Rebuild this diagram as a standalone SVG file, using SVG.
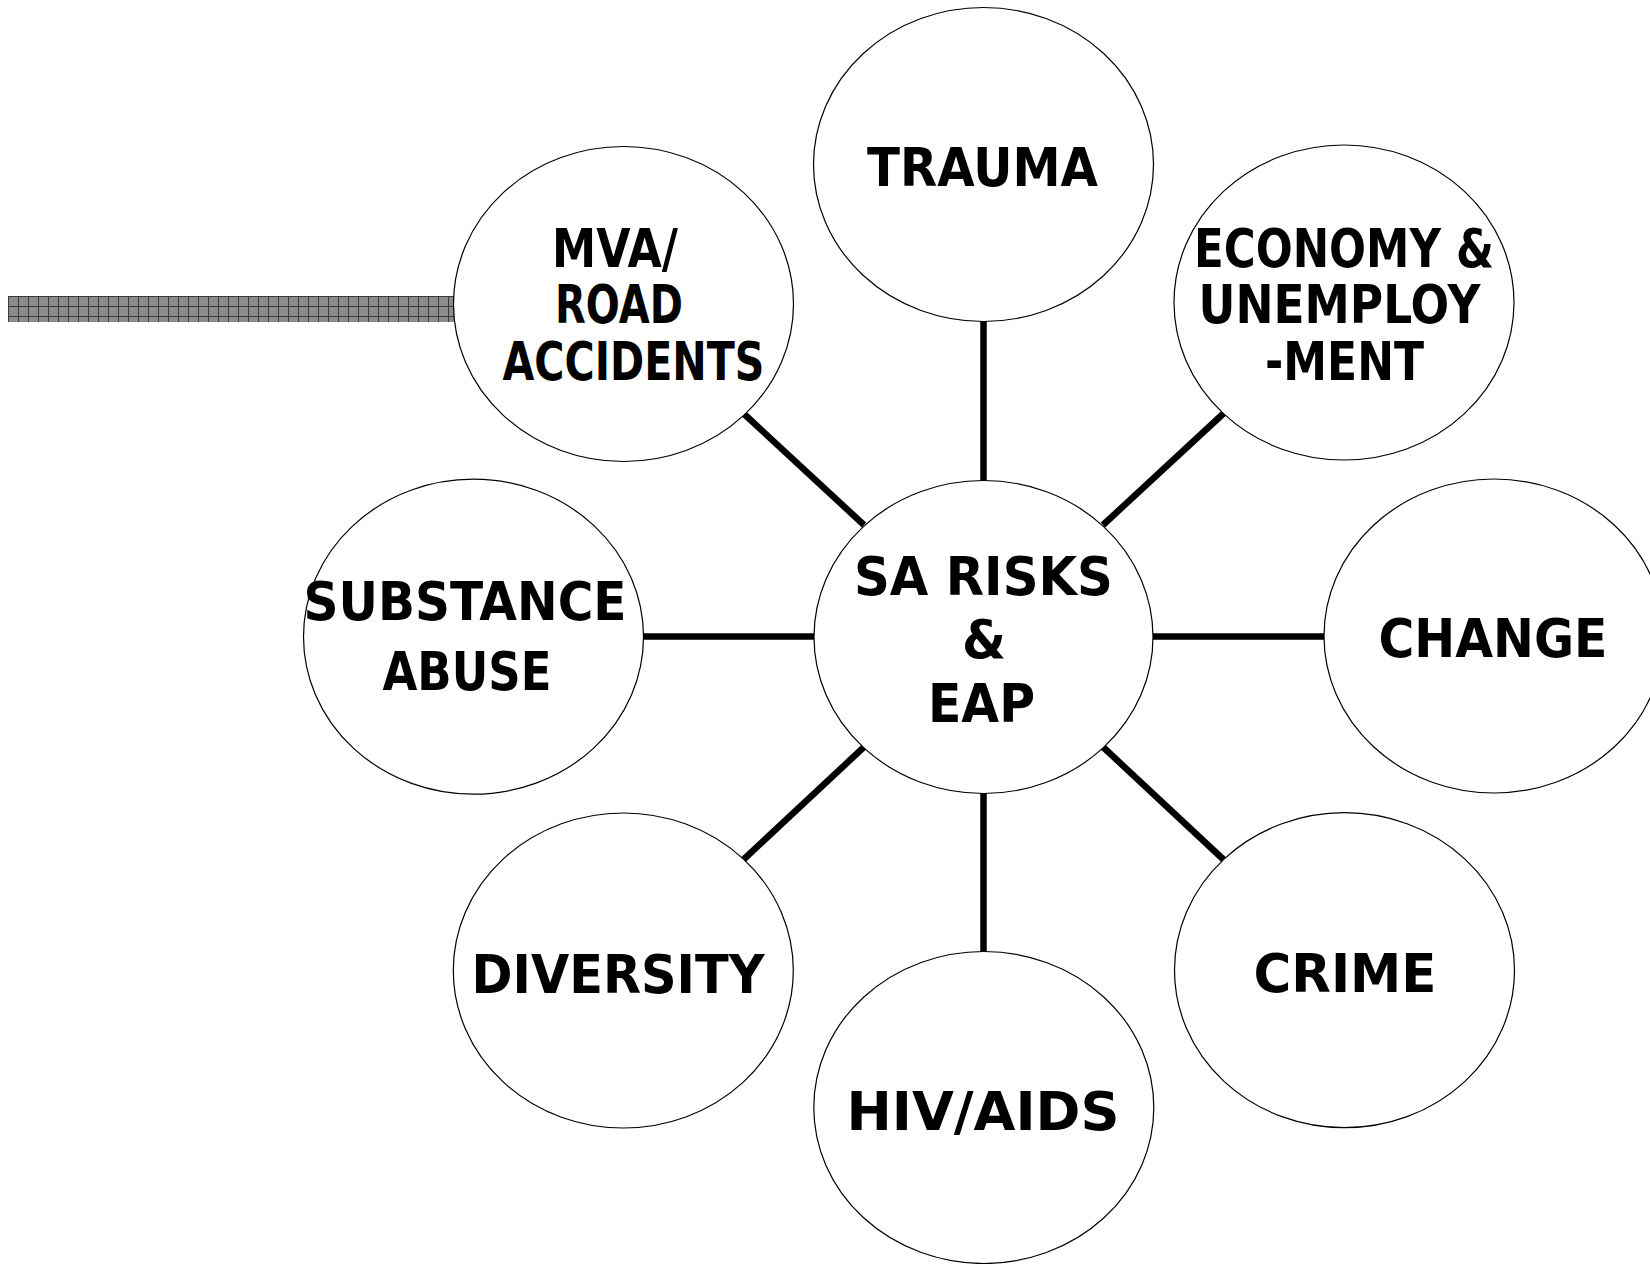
<svg xmlns="http://www.w3.org/2000/svg" width="1650" height="1264" viewBox="0 0 1650 1264">
<style>
.node ellipse{fill:#fff;stroke:#000;stroke-width:1.2}
.node text{font-family:"DejaVu Sans","Liberation Sans",sans-serif;font-weight:bold;font-size:53px;fill:#000}
.conn line{stroke:#000;stroke-width:6.5;stroke-linecap:butt}
</style>
<defs>
<pattern id="grid" x="8" y="296" width="10" height="10" patternUnits="userSpaceOnUse">
<rect width="10" height="10" fill="#8c8c8c"/>
<path d="M0 0.5H10M0.5 0V10" stroke="#3a3a3a" stroke-width="1"/>
</pattern>
</defs>
<rect id="bar" x="8" y="296" width="450" height="26" fill="url(#grid)"/>
<g id="connectors" class="conn">
<line x1="983.5" y1="321" x2="983.5" y2="481"/>
<line x1="983.5" y1="793" x2="983.5" y2="952"/>
<line x1="643" y1="636.5" x2="814" y2="636.5"/>
<line x1="1153" y1="636.5" x2="1324" y2="636.5"/>
<line x1="743" y1="413" x2="864" y2="525"/>
<line x1="1224" y1="413" x2="1103" y2="525"/>
<line x1="743" y1="860" x2="864" y2="747"/>
<line x1="1224" y1="860" x2="1103" y2="747"/>
</g>
<g id="node-trauma" class="node">
<ellipse cx="983.5" cy="164.5" rx="170" ry="157"/>
<text x="867" y="186" textLength="231" lengthAdjust="spacingAndGlyphs">TRAUMA</text>
</g>
<g id="node-mva" class="node">
<ellipse cx="623.5" cy="304" rx="170" ry="157.5"/>
<text x="552" y="267" textLength="126" lengthAdjust="spacingAndGlyphs">MVA/</text>
<text x="555" y="323" textLength="128" lengthAdjust="spacingAndGlyphs">ROAD</text>
<text x="502.5" y="380" textLength="262" lengthAdjust="spacingAndGlyphs">ACCIDENTS</text>
</g>
<g id="node-economy" class="node">
<ellipse cx="1344" cy="302.5" rx="170" ry="157.5"/>
<text x="1194" y="267" textLength="300" lengthAdjust="spacingAndGlyphs">ECONOMY &amp;</text>
<text x="1198.5" y="323" textLength="282" lengthAdjust="spacingAndGlyphs">UNEMPLOY</text>
<text x="1265" y="380" textLength="159" lengthAdjust="spacingAndGlyphs">-MENT</text>
</g>
<g id="node-substance" class="node">
<ellipse cx="473.5" cy="636.7" rx="170" ry="157.5"/>
<text x="303.5" y="620" textLength="323" lengthAdjust="spacingAndGlyphs">SUBSTANCE</text>
<text x="382.5" y="690" textLength="169" lengthAdjust="spacingAndGlyphs">ABUSE</text>
</g>
<g id="node-center" class="node">
<ellipse cx="983.5" cy="637" rx="169.5" ry="156.5"/>
<text x="854" y="595" textLength="259" lengthAdjust="spacingAndGlyphs">SA RISKS</text>
<text x="962" y="658" textLength="44" lengthAdjust="spacingAndGlyphs">&amp;</text>
<text x="928" y="722" textLength="107" lengthAdjust="spacingAndGlyphs">EAP</text>
</g>
<g id="node-change" class="node">
<ellipse cx="1494" cy="636" rx="170" ry="157"/>
<text x="1378.5" y="657" textLength="229" lengthAdjust="spacingAndGlyphs">CHANGE</text>
</g>
<g id="node-diversity" class="node">
<ellipse cx="623.3" cy="970.5" rx="170" ry="157.5"/>
<text x="471.5" y="993" textLength="293" lengthAdjust="spacingAndGlyphs">DIVERSITY</text>
</g>
<g id="node-crime" class="node">
<ellipse cx="1344.5" cy="970.2" rx="170" ry="157.5"/>
<text x="1253.5" y="992" textLength="183" lengthAdjust="spacingAndGlyphs">CRIME</text>
</g>
<g id="node-hiv" class="node">
<ellipse cx="983.8" cy="1107.5" rx="170" ry="156"/>
<text x="846.5" y="1130" textLength="273" lengthAdjust="spacingAndGlyphs">HIV/AIDS</text>
</g>
</svg>
